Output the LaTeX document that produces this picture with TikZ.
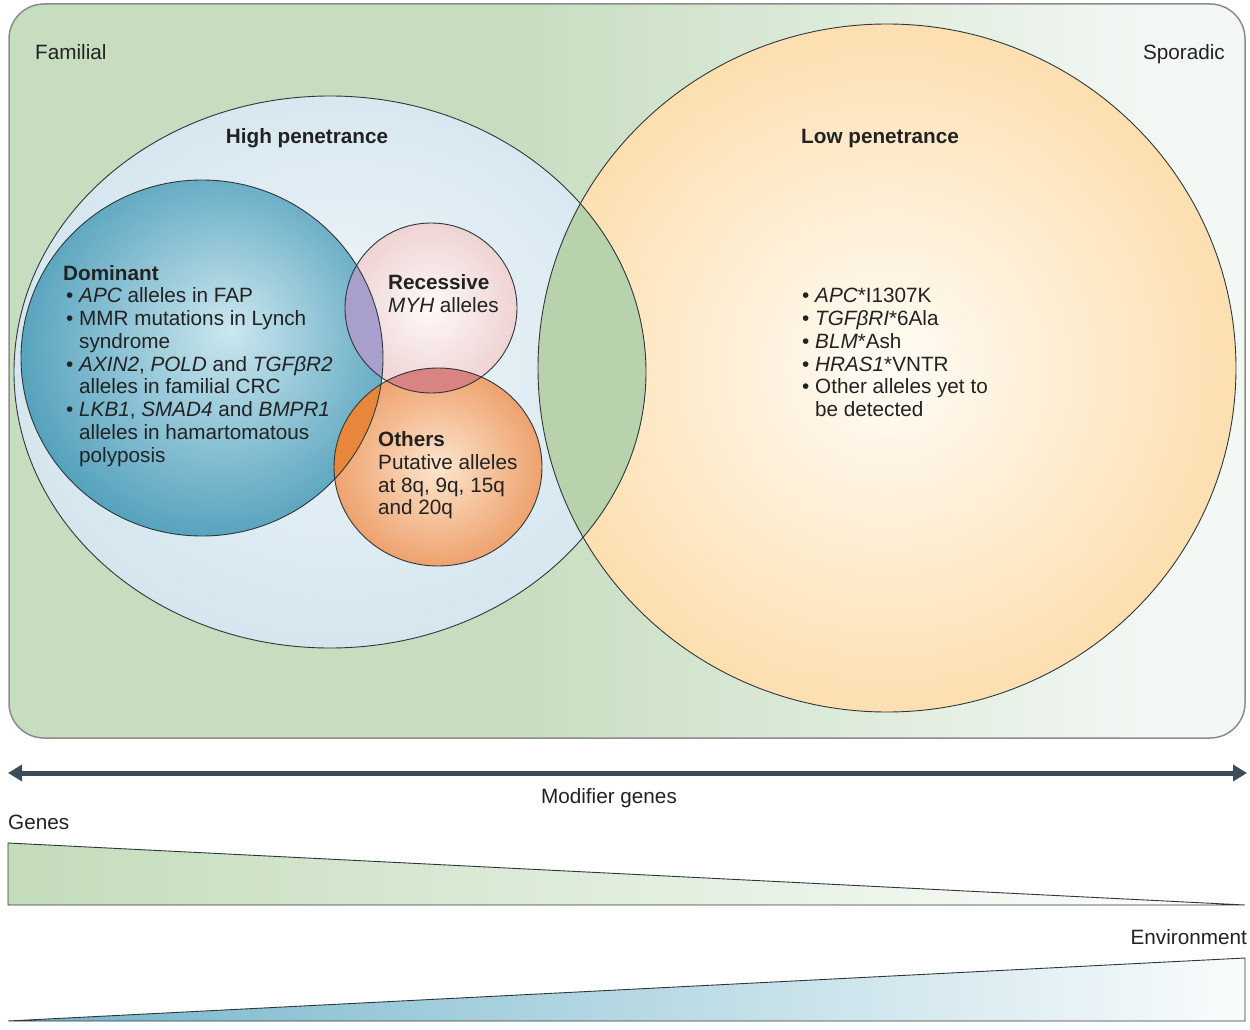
\documentclass[tikz,border=0pt]{standalone}
\usepackage{fontspec}
\setmainfont{Liberation Sans}
\usetikzlibrary{arrows.meta}
\definecolor{bgG}{HTML}{C6DDBF}
\definecolor{bgW}{HTML}{F4F8F5}
\definecolor{hiIn}{HTML}{F0F6FA}
\definecolor{hiOut}{HTML}{D3E5EE}
\definecolor{loIn}{HTML}{FFFCF6}
\definecolor{loOut}{HTML}{FDDFB0}
\definecolor{lensC}{HTML}{B7D2AD}
\definecolor{domIn}{HTML}{CBE7EF}
\definecolor{domOut}{HTML}{4F9EBA}
\definecolor{recIn}{HTML}{FEF9F9}
\definecolor{recOut}{HTML}{EFD3D3}
\definecolor{othIn}{HTML}{FDE5CE}
\definecolor{othOut}{HTML}{EEA26E}
\definecolor{ovDR}{HTML}{A99FCC}
\definecolor{ovDO}{HTML}{E8873C}
\definecolor{ovRO}{HTML}{D98482}
\definecolor{lineC}{HTML}{2E3838}
\definecolor{arrowC}{HTML}{3C4D59}
\definecolor{genesG}{HTML}{C3DCBB}
\definecolor{envB}{HTML}{72B4CA}
\definecolor{txtC}{HTML}{222222}
\pgfdeclarehorizontalshading{bgshade}{100bp}{color(0bp)=(bgG); color(25bp)=(bgG); color(45bp)=(bgG); color(72bp)=(bgW); color(100bp)=(bgW)}
\pgfdeclareradialshading{hishade}{\pgfpoint{2bp}{3bp}}{color(0bp)=(hiIn); color(28bp)=(hiOut); color(50bp)=(hiOut)}
\pgfdeclareradialshading{loshade}{\pgfpoint{0bp}{0bp}}{color(0bp)=(loIn); color(25bp)=(loOut); color(50bp)=(loOut)}
\pgfdeclareradialshading{domshade}{\pgfpoint{4bp}{4bp}}{color(0bp)=(domIn); color(29bp)=(domOut); color(50bp)=(domOut)}
\pgfdeclareradialshading{recshade}{\pgfpoint{0bp}{0bp}}{color(0bp)=(recIn); color(25bp)=(recOut); color(50bp)=(recOut)}
\pgfdeclareradialshading{othshade}{\pgfpoint{0bp}{0bp}}{color(0bp)=(othIn); color(25bp)=(othOut); color(50bp)=(othOut)}
\tikzset{
  hipath/.style={insert path={(330,372) ellipse [x radius=316pt, y radius=276pt]}},
  lopath/.style={insert path={(887,368) ellipse [x radius=349pt, y radius=344pt]}},
  dompath/.style={insert path={(202,358) ellipse [x radius=181pt, y radius=178pt]}},
  recpath/.style={insert path={(431,308) ellipse [x radius=86pt, y radius=85pt]}},
  othpath/.style={insert path={(438,467) ellipse [x radius=104pt, y radius=99pt]}},
  circ/.style={draw=lineC, line width=0.9pt},
  txt/.style={inner sep=0pt, anchor=base west, text=txtC, font=\fontsize{20.7}{22.8}\selectfont},
  hdr/.style={txt, font=\fontsize{20.7}{22.8}\selectfont\bfseries},
  modarrow/.style={draw=arrowC, line width=5pt, {Triangle[length=14pt,width=16pt]}-{Triangle[length=14pt,width=16pt]}},
  wedge/.style={draw=lineC, line width=0.9pt}
}
\begin{document}
\begin{tikzpicture}[x=1pt,y=-1pt]
\useasboundingbox (0,0) rectangle (1250,1030);
\fill[white] (0,0) rectangle (1250,1030);
% background panel
\shade[shading=bgshade, rounded corners=35pt] (9,4) rectangle (1245,738);
% big circles
\shade[shading=hishade, hipath];
\shade[shading=loshade, lopath];
\begin{scope}
  \clip[hipath];
  \fill[lensC, lopath];
\end{scope}
% inner circles
\shade[shading=domshade, dompath];
\shade[shading=recshade, recpath];
\shade[shading=othshade, othpath];
\begin{scope}
  \clip[dompath];
  \fill[ovDR, recpath];
  \fill[ovDO, othpath];
\end{scope}
\begin{scope}
  \clip[recpath];
  \fill[ovRO, othpath];
\end{scope}
% outlines
\draw[circ, hipath];
\draw[circ, lopath];
\draw[circ, dompath];
\draw[circ, recpath];
\draw[circ, othpath];
\draw[draw=black!45, line width=1.5pt, rounded corners=35pt] (9,4) rectangle (1245,738);
% labels
\node[txt] (fam) at (35,60) {Familial};
\node[txt, anchor=base east] (spo) at (1225,60) {Sporadic};
\node[hdr, anchor=base] (hi) at (307,143) {High penetrance};
\node[hdr, anchor=base] (lo) at (880,143) {Low penetrance};
% dominant
\node[hdr] (dom) at (63,280) {Dominant};
\node[txt] (d1) at (66,302.5) {\textbullet\ \textit{APC} alleles in FAP};
\node[txt] (d2) at (66,325.5) {\textbullet\ MMR mutations in Lynch};
\node[txt] (d3) at (79,348) {syndrome};
\node[txt] (d4) at (66,371) {\textbullet\ \textit{AXIN2}, \textit{POLD} and \textit{TGFβR2}};
\node[txt] (d5) at (79,393.5) {alleles in familial CRC};
\node[txt] (d6) at (66,416.5) {\textbullet\ \textit{LKB1}, \textit{SMAD4} and \textit{BMPR1}};
\node[txt] (d7) at (79,439) {alleles in hamartomatous};
\node[txt] (d8) at (79,462) {polyposis};
% recessive
\node[hdr] (rec) at (388,289) {Recessive};
\node[txt] (rec1) at (388,312) {\textit{MYH} alleles};
% others
\node[hdr] (oth) at (378,446) {Others};
\node[txt] (oth1) at (378,469) {Putative alleles};
\node[txt] (oth2) at (378,492) {at 8q, 9q, 15q};
\node[txt] (oth3) at (378,514.5) {and 20q};
% low penetrance list
\node[txt] (l1) at (802,302.5) {\textbullet\ \textit{APC}*I1307K};
\node[txt] (l2) at (802,325) {\textbullet\ \textit{TGFβRI}*6Ala};
\node[txt] (l3) at (802,348) {\textbullet\ \textit{BLM}*Ash};
\node[txt] (l4) at (802,371) {\textbullet\ \textit{HRAS1}*VNTR};
\node[txt] (l5) at (802,393.5) {\textbullet\ Other alleles yet to};
\node[txt] (l6) at (815,416.5) {be detected};
% modifier arrow
\coordinate (aL) at (8,773);
\coordinate (aR) at (1247,773);
\draw[modarrow] (aL) -- (aR);
\node[txt, anchor=base] (mod) at (609,803) {Modifier genes};
% genes wedge
\node[txt] (genes) at (8,829) {Genes};
\shade[left color=genesG, right color=white] (8,843) -- (8,905) -- (1245,905) -- cycle;
\draw[wedge] (8,843) -- (8,905) -- (1245,905) -- cycle;
% environment wedge
\node[txt, anchor=base east] (env) at (1247,944) {Environment};
\shade[left color=envB, right color=white!96!envB] (8,1021) -- (1245,1021) -- (1245,958) -- cycle;
\draw[wedge] (8,1021) -- (1245,1021) -- (1245,958) -- cycle;
\end{tikzpicture}
\end{document}
